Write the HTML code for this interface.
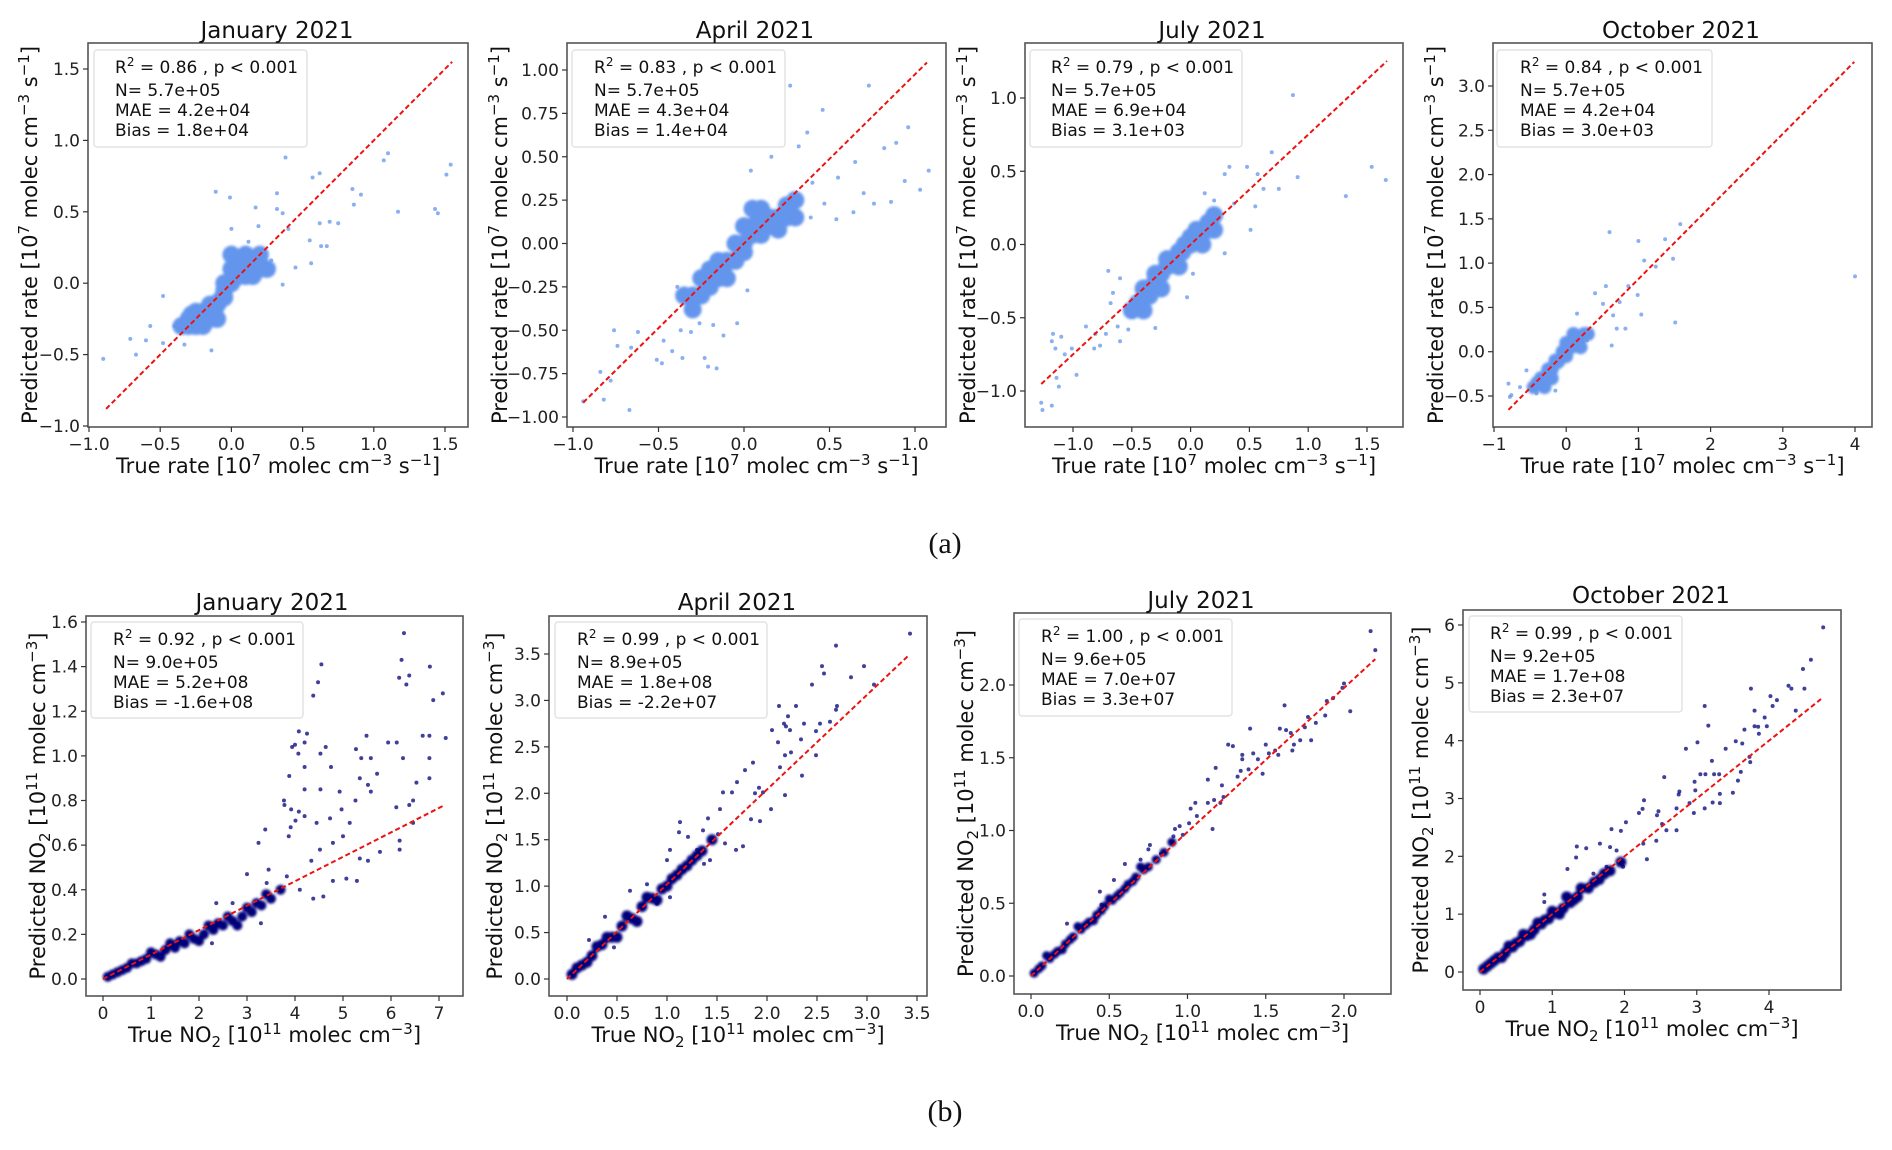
<!DOCTYPE html>
<html><head><meta charset="utf-8"><style>
html,body{margin:0;padding:0;background:#fff;}
svg{display:block;font-family:"DejaVu Sans","Liberation Sans",sans-serif;}
</style></head><body>
<svg id="fig" width="1892" height="1150" viewBox="0 0 1892 1150" xmlns="http://www.w3.org/2000/svg">
<defs><filter id="soft" x="-20%" y="-20%" width="140%" height="140%"><feGaussianBlur stdDeviation="1.4"/></filter></defs>
<rect x="0" y="0" width="1892" height="1150" fill="#fff"/>
<text x="945" y="553" font-family="Liberation Serif, serif" font-size="30" text-anchor="middle" fill="#111">(a)</text>
<text x="945" y="1121" font-family="Liberation Serif, serif" font-size="30" text-anchor="middle" fill="#111">(b)</text>
</svg>
<script>
// ---------- DATA ----------
const titles=["January 2021","April 2021","July 2021","October 2021","January 2021","April 2021","July 2021","October 2021"];
const statR2=["0.86","0.83","0.79","0.84","0.92","0.99","1.00","0.99"];
const statN=["5.7e+05","5.7e+05","5.7e+05","5.7e+05","9.0e+05","8.9e+05","9.6e+05","9.2e+05"];
const statMAE=["4.2e+04","4.3e+04","6.9e+04","4.2e+04","5.2e+08","1.8e+08","7.0e+07","1.7e+08"];
const statBias=["1.8e+04","1.4e+04","3.1e+03","3.0e+03","-1.6e+08","-2.2e+07","3.3e+07","2.3e+07"];
const xTicks=[[-1.0,-0.5,0.0,0.5,1.0,1.5],[-1.0,-0.5,0.0,0.5,1.0],[-1.0,-0.5,0.0,0.5,1.0,1.5],[-1,0,1,2,3,4],[0,1,2,3,4,5,6,7],[0,0.5,1,1.5,2,2.5,3,3.5],[0,0.5,1,1.5,2],[0,1,2,3,4]];
const yTicks=[[-1.0,-0.5,0.0,0.5,1.0,1.5],[-1,-0.75,-0.5,-0.25,0,0.25,0.5,0.75,1],[-1.0,-0.5,0.0,0.5,1.0],[-0.5,0,0.5,1,1.5,2,2.5,3],[0,0.2,0.4,0.6,0.8,1.0,1.2,1.4,1.6],[0,0.5,1,1.5,2,2.5,3,3.5],[0,0.5,1,1.5,2],[0,1,2,3,4,5,6]];
const xDec=[1,1,1,0,0,1,1,0];
const yDec=[1,2,1,1,1,1,1,0];
const fitSlope=[1.0,0.975,0.75,0.82,0.1095,1.02,0.99,1.0];
const fitXStart=[-0.88,-0.94,-1.27,-0.8,0,0,0,0];
const fitXEnd=[1.55,1.07,1.67,3.99,7.08,3.41,2.2,4.72];
const coreX=[
[-0.3,-0.25,-0.2,-0.15,-0.1,-0.05,0,0.05,0.1,0.15,0.2,-0.25,-0.2,-0.1,-0.05,0,0.05,0.1,0.15,-0.3,-0.15,0.2,0.25,-0.35,0,-0.05,0.1,-0.12,-0.08,0.02,-0.22,-0.28,0.08,0.18],
[-0.3,-0.25,-0.2,-0.2,-0.15,-0.1,-0.1,-0.05,0,0,0.05,0.05,0.1,0.1,0.15,0.15,0.2,0.2,0.25,0.25,0.3,-0.15,-0.25,0,-0.05,0.05,0.1,0.3,-0.3,-0.35,-0.12,-0.02,0.12,0.18,-0.22],
[-0.45,-0.4,-0.35,-0.3,-0.3,-0.25,-0.2,-0.2,-0.15,-0.1,-0.1,-0.05,0,0,0.05,0.05,0.1,0.15,0.15,0.2,-0.4,-0.5,-0.25,0.1,0.2,-0.17,-0.07,0.03,-0.27,-0.37],
[-0.4,-0.35,-0.3,-0.25,-0.2,-0.15,-0.1,-0.05,0,0,0.05,0.1,0.15,0.2,0.25,-0.3,-0.2,0,0.1,0.2,-0.45,0.3,-0.12,0.07,-0.22],
[0.1,0.3,0.5,0.7,0.9,1.1,1.3,1.5,1.7,1.9,2.1,2.3,2.5,2.7,2.9,3.1,3.3,3.5,0.6,1.0,1.4,1.8,2.2,2.6,3.0,3.4,3.7,1.2,2.0,2.8,0.2,0.4,0.8,1.6,2.4,3.2],
[0.05,0.15,0.25,0.35,0.45,0.55,0.65,0.75,0.85,0.95,1.05,1.15,1.25,0.3,0.5,0.6,0.7,0.8,0.9,0.4,0.2,1.35,1.45,0.1,1.0,1.1,1.2,1.3],
[0.02,0.07,0.12,0.17,0.22,0.27,0.32,0.37,0.42,0.47,0.52,0.57,0.62,0.67,0.72,0.1,0.2,0.3,0.4,0.5,0.6,0.7,0.8,0.85,0.9,0.05,0.15,0.25,0.35,0.45,0.55,0.65,0.75],
[0.05,0.15,0.25,0.35,0.45,0.55,0.65,0.75,0.85,0.95,1.05,1.15,1.25,1.35,1.5,1.65,0.4,0.6,0.8,1.0,1.2,1.4,0.3,0.7,1.1,1.8,1.95,0.1,0.2,0.5,0.9,1.3,1.58,1.72]];
const coreY=[
[-0.25,-0.3,-0.2,-0.25,-0.15,-0.1,0,0.05,0.05,0.1,0.1,-0.2,-0.3,-0.25,-0.05,0.1,0.15,0.15,0.05,-0.3,-0.15,0.2,0.1,-0.3,0.2,0,0.2,-0.2,-0.12,0.03,-0.25,-0.22,0.1,0.15],
[-0.3,-0.2,-0.25,-0.15,-0.1,-0.1,-0.2,0,0,-0.05,0.05,0.1,0.05,0.12,0.1,0.15,0.15,0.08,0.15,0.22,0.15,-0.2,-0.3,0.1,-0.1,0.2,0.2,0.25,-0.38,-0.3,-0.14,-0.02,0.12,0.12,-0.22],
[-0.4,-0.3,-0.35,-0.25,-0.2,-0.2,-0.15,-0.1,-0.1,-0.05,-0.15,0,0,0.05,0.05,0.1,0.1,0.1,0.15,0.1,-0.45,-0.45,-0.3,0,0.2,-0.13,-0.05,0.02,-0.22,-0.3],
[-0.35,-0.3,-0.3,-0.2,-0.2,-0.1,-0.1,0,0,-0.05,0.05,0.1,0.1,0.15,0.2,-0.4,-0.3,0.1,0.2,0.05,-0.4,0.2,-0.12,0.05,-0.22],
[0.01,0.03,0.05,0.07,0.09,0.11,0.13,0.14,0.16,0.18,0.2,0.22,0.24,0.26,0.28,0.3,0.33,0.36,0.07,0.12,0.16,0.2,0.24,0.28,0.32,0.38,0.4,0.1,0.17,0.24,0.02,0.04,0.08,0.17,0.25,0.34],
[0.05,0.15,0.25,0.37,0.45,0.57,0.65,0.78,0.87,0.97,1.08,1.18,1.28,0.35,0.45,0.68,0.62,0.88,0.85,0.45,0.18,1.38,1.5,0.12,1.0,1.12,1.22,1.33],
[0.02,0.07,0.12,0.17,0.22,0.27,0.32,0.37,0.42,0.48,0.52,0.57,0.63,0.68,0.73,0.14,0.18,0.34,0.38,0.53,0.6,0.75,0.8,0.85,0.92,0.05,0.15,0.25,0.35,0.45,0.55,0.65,0.75],
[0.05,0.15,0.25,0.33,0.43,0.53,0.63,0.73,0.83,0.92,1.02,1.1,1.2,1.3,1.45,1.6,0.45,0.65,0.85,1.05,1.3,1.45,0.25,0.65,1.0,1.75,1.9,0.1,0.2,0.5,0.9,1.25,1.55,1.7]];
const ptsX=[
[0.38,1.10,1.07,1.54,1.51,1.43,1.45,1.17,-0.11,-0.01,0.32,0.57,0.62,0.85,0.91,0.86,0.17,0.62,0.75,0.69,0.55,0.63,0.67,0.45,0.56,0.36,-0.90,-0.71,-0.67,-0.60,-0.57,-0.48,-0.14,-0.33,-0.48,-0.40,0.00,0.32,0.36,0.19,-0.34,0.05,0.26,0.28,0.12,0.40],
[0.27,0.73,0.46,0.96,1.08,1.03,0.94,0.86,0.76,0.89,0.82,0.65,0.55,0.54,0.37,0.32,0.16,0.04,0.40,0.47,0.39,0.70,0.64,-0.94,-0.67,-0.82,-0.84,-0.78,-0.74,-0.76,-0.62,-0.51,-0.48,-0.42,-0.36,-0.21,-0.16,-0.23,-0.12,-0.04,0.02,-0.39,-0.37,-0.31,-0.47,-0.18,-0.26,-0.66],
[0.87,1.54,1.66,1.32,0.91,0.69,0.57,0.75,0.62,0.48,0.33,0.29,0.55,0.51,0.29,0.02,0.37,0.12,0.20,-0.70,-0.60,-0.66,-0.68,-0.62,-0.60,-0.72,-0.77,-0.89,-0.81,-0.53,-0.50,-0.30,-0.03,-1.18,-1.17,-1.10,-1.15,-1.14,-1.12,-1.27,-1.26,-1.18,-0.97,-1.07,-1.01,-0.82],
[4.0,1.58,0.60,1.00,1.37,1.08,1.24,1.48,1.51,1.04,0.86,0.99,0.55,0.40,0.74,0.65,0.82,0.70,0.29,0.63,0.15,0.51,-0.80,-0.76,-0.78,-0.55,-0.41,-0.15,-0.64],
[6.27,6.22,6.81,6.38,6.17,6.32,7.08,6.88,7.14,6.66,6.80,5.94,6.12,6.25,6.80,6.80,6.53,6.46,6.38,6.11,5.49,5.27,5.38,5.58,5.71,5.35,5.52,5.58,4.93,4.97,5.26,4.55,4.48,4.38,4.08,4.25,4.20,4.07,3.94,4.00,4.64,4.53,3.88,4.20,4.20,4.53,4.75,3.77,3.78,3.92,4.08,4.20,3.91,4.01,3.38,3.87,3.24,4.45,4.73,5.14,5.77,5.35,5.52,5.29,5.07,4.59,4.38,3.29,4.79,4.52,4.79,5.0,4.34,6.46,6.18,6.18,3.45,3.83,3.41,4.10,3.0,2.36,2.70,2.27],
[3.43,2.69,2.97,2.55,2.57,2.84,2.45,3.07,2.70,2.69,2.12,2.29,2.21,2.37,2.53,2.63,2.17,2.19,2.49,2.05,2.23,2.34,2.11,2.18,2.49,2.24,2.35,2.04,2.18,2.13,1.86,1.78,1.70,1.92,1.96,1.88,1.65,1.56,1.53,1.84,1.93,1.76,1.69,1.58,1.41,1.13,1.12,1.21,1.51,1.36,1.30,1.03,1.00,1.37,1.17,1.43,0.38,0.22,0.80,0.90,0.63,1.03,0.47],
[2.17,2.20,2.04,2.00,1.99,1.93,1.89,1.88,1.82,1.77,1.75,1.79,1.72,1.62,1.67,1.68,1.66,1.63,1.59,1.56,1.50,1.58,1.52,1.48,1.45,1.40,1.42,1.35,1.35,1.34,1.39,1.32,1.26,1.29,1.18,1.13,1.22,1.23,1.21,1.17,1.13,1.16,1.05,1.02,1.06,1.01,0.95,0.97,0.91,0.92,0.76,0.75,0.60,0.53,0.44,0.70,0.83,0.45,0.23],
[4.75,4.58,4.47,4.49,4.27,4.31,4.11,4.02,4.05,4.37,3.75,3.80,3.94,3.97,3.85,3.80,3.86,3.66,3.63,3.54,3.40,3.11,3.16,3.01,2.85,3.21,3.73,3.74,3.61,3.57,3.50,3.32,3.22,3.32,3.12,3.24,3.31,3.05,2.97,2.98,2.76,2.75,2.72,2.90,3.11,2.96,2.55,2.27,2.25,2.20,2.47,2.45,2.52,2.72,2.58,2.44,2.31,2.02,1.95,1.82,1.47,1.66,1.33,1.34,1.21,0.89,0.89,1.89,1.75,1.98,2.26,1.57,1.34,1.80]];
const ptsY=[
[0.88,0.91,0.86,0.83,0.76,0.52,0.49,0.50,0.64,0.60,0.63,0.74,0.77,0.66,0.62,0.55,0.53,0.42,0.42,0.43,0.30,0.26,0.26,0.11,0.14,-0.01,-0.53,-0.39,-0.50,-0.40,-0.30,-0.09,-0.47,-0.43,-0.42,-0.30,0.38,0.52,0.49,0.40,-0.25,0.14,0.07,0.16,0.29,0.38],
[0.91,0.91,0.77,0.67,0.42,0.31,0.36,0.24,0.23,0.58,0.55,0.47,0.38,0.14,0.64,0.56,0.50,0.42,0.35,0.23,0.15,0.29,0.18,-0.91,-0.96,-0.90,-0.74,-0.79,-0.59,-0.50,-0.51,-0.67,-0.69,-0.62,-0.66,-0.71,-0.72,-0.66,-0.53,-0.46,-0.27,-0.25,-0.50,-0.51,-0.56,-0.47,-0.46,-0.60],
[1.02,0.53,0.44,0.33,0.46,0.63,0.48,0.38,0.38,0.53,0.53,0.48,0.26,0.10,-0.06,-0.20,0.28,0.35,0.30,-0.18,-0.23,-0.33,-0.40,-0.56,-0.66,-0.61,-0.69,-0.56,-0.61,-0.58,-0.49,-0.57,-0.36,-0.66,-0.61,-0.63,-0.71,-0.91,-0.97,-1.08,-1.13,-1.10,-0.89,-0.75,-0.71,-0.71],
[0.85,1.44,1.35,1.25,1.27,1.03,0.96,1.05,0.33,0.42,0.74,0.64,0.74,0.66,0.56,0.41,0.26,0.26,0.13,0.07,0.43,0.54,-0.36,-0.49,-0.51,-0.21,-0.47,-0.44,-0.40],
[1.55,1.43,1.40,1.36,1.35,1.32,1.28,1.25,1.08,1.09,1.09,1.06,1.06,0.99,0.99,0.90,0.88,0.80,0.78,0.77,1.09,1.03,0.99,0.99,0.92,0.90,0.87,0.84,0.84,0.76,0.80,1.41,1.33,1.27,1.11,1.10,1.06,1.01,1.04,1.05,1.04,1.01,0.91,0.95,0.85,0.85,0.95,0.80,0.78,0.76,0.75,0.73,0.68,0.71,0.67,0.64,0.61,0.70,0.72,0.70,0.57,0.54,0.53,0.44,0.45,0.37,0.36,0.25,0.44,0.58,0.61,0.64,0.53,0.70,0.58,0.62,0.49,0.46,0.43,0.40,0.47,0.34,0.34,0.16],
[3.72,3.59,3.37,3.37,3.29,3.25,3.17,3.17,2.94,2.90,2.94,2.94,2.83,2.75,2.75,2.77,2.75,2.72,2.67,2.68,2.68,2.58,2.55,2.41,2.41,2.44,2.19,1.83,1.98,2.28,2.33,2.25,2.12,2.06,2.01,2.00,2.01,2.01,1.83,1.72,1.70,1.43,1.39,1.46,1.73,1.69,1.58,1.53,1.56,1.60,1.39,1.39,1.28,1.24,1.17,1.28,0.67,0.42,1.02,0.81,0.95,0.88,0.34],
[2.37,2.24,1.82,2.01,1.98,1.91,1.89,1.79,1.74,1.78,1.71,1.62,1.62,1.86,1.55,1.59,1.67,1.69,1.70,1.55,1.59,1.52,1.53,1.39,1.49,1.70,1.53,1.49,1.52,1.41,1.42,1.37,1.59,1.58,1.43,1.35,1.31,1.23,1.19,1.21,1.19,1.01,1.19,1.15,1.10,1.05,1.03,0.97,0.96,1.01,0.90,0.87,0.77,0.66,0.58,0.80,0.84,0.49,0.36],
[5.96,5.40,5.24,4.90,4.95,4.90,4.70,4.77,4.60,4.52,4.90,4.52,4.40,4.25,4.24,4.25,4.12,4.19,3.95,3.99,3.86,4.60,4.26,3.97,3.86,3.65,3.72,3.63,3.46,3.31,3.10,3.08,2.93,2.92,3.42,3.42,3.42,3.42,3.29,3.14,3.12,3.07,2.83,2.92,2.83,2.75,3.37,2.97,2.82,2.75,2.78,2.71,2.56,2.45,2.45,2.27,1.95,2.59,2.44,2.47,2.14,2.22,1.98,2.17,1.78,1.34,1.21,2.10,1.82,1.82,2.22,1.70,1.33,2.16]];

// ---------- LAYOUT (pixels, not data) ----------
const boxes=[[88,43,468,427],[567,43,946,427],[1025,43,1403,427],[1493,43,1872,427],[86,616,463,996],[549,616,927,996],[1014,613,1391,994],[1463,610,1841,990]];
const xCal=[[-1,89,1.5,445],[-1,573,1,915],[-1,1073,1.5,1367],[-1,1494,4,1855],[0,103,7,439],[0,567,3.5,917],[0,1031,2,1344],[0,1480,4,1769]];
const yCal=[[-1,426,1.5,69],[-1,417,1,70],[-1,391,1,98],[-0.5,396,3,86],[0,979,1.6,622],[0,979,3.5,654],[0,976,2,685],[0,972,6,625]];
const titlePos=[[277,38],[755,38],[1212,38],[1681,38],[272,610],[737,610],[1201,608],[1651,603]];
const legBox=[[94,50,213,97],[572,50,213,97],[1030,50,212,97],[1497,50,215,97],[91,622,212,96],[555,622,212,96],[1019,619,213,97],[1469,616,213,96]];
const legTextX=[115,594,1051,1520,113,577,1041,1490];
const yLabX=[37,507,975,1443,45,502,973,1428];

const NS="http://www.w3.org/2000/svg";
const svg=document.getElementById('fig');
function mk(tag,attrs,parent){const e=document.createElementNS(NS,tag);for(const k in attrs)e.setAttribute(k,attrs[k]);(parent||svg).appendChild(e);return e;}
function fmt(v,d){const s=v.toFixed(d);return s.replace('-','\u2212');}

for(let p=0;p<8;p++){
  const top=p<4;
  const g=mk('g',{});
  
  
  const [l,t,r,b]=boxes[p];
  const xc=xCal[p], yc=yCal[p];
  const sx=v=>xc[1]+(v-xc[0])*(xc[3]-xc[1])/(xc[2]-xc[0]);
  const sy=v=>yc[1]+(v-yc[0])*(yc[3]-yc[1])/(yc[2]-yc[0]);
  const col=top?'#6495ED':'#00007a';
  const cid='clip'+p;
  const cp=mk('clipPath',{id:cid},g);mk('rect',{x:l,y:t,width:r-l,height:b-t},cp);
  const pg=mk('g',{'clip-path':'url(#'+cid+')'},g);
  const coreG=mk('g',{filter:'url(#soft)'},pg);
  const coreR=top?(p==3?7:9):(p==4?5:(p==6?4.5:5.5));
  for(let i=0;i<coreX[p].length;i++){
    const c=mk('circle',{cx:sx(coreX[p][i]),cy:sy(coreY[p][i]),r:coreR,fill:col},coreG);
    
    
  }
  for(let i=0;i<ptsX[p].length;i++){
    const c=mk('circle',{cx:sx(ptsX[p][i]),cy:sy(ptsY[p][i]),r:2,fill:col,'fill-opacity':0.75},pg);
    
    
  }
  const ln=mk('line',{x1:sx(fitXStart[p]),y1:sy(fitXStart[p]*fitSlope[p]),x2:sx(fitXEnd[p]),y2:sy(fitXEnd[p]*fitSlope[p]),stroke:'#ee1111','stroke-width':2,'stroke-dasharray':'5,3'},pg);
  
  
  const fr=mk('rect',{x:l,y:t,width:r-l,height:b-t,fill:'none',stroke:'#555','stroke-width':1.6},g);
  
  
  xTicks[p].forEach(v=>{
    const x=sx(v);
    mk('line',{x1:x,y1:b,x2:x,y2:b+5,stroke:'#333','stroke-width':1.2},g);
    const tx=mk('text',{x:x,y:b+23,'font-size':17,'text-anchor':'middle',fill:'#222'},g);
    tx.textContent=fmt(v,xDec[p]);
    
    
  });
  yTicks[p].forEach(v=>{
    const y=sy(v);
    mk('line',{x1:l-5,y1:y,x2:l,y2:y,stroke:'#333','stroke-width':1.2},g);
    const tx=mk('text',{x:l-8,y:y+6,'font-size':17,'text-anchor':'end',fill:'#222'},g);
    tx.textContent=fmt(v,yDec[p]);
    
    
  });
  const tt=mk('text',{x:titlePos[p][0],y:titlePos[p][1],'font-size':23,'text-anchor':'middle',fill:'#111'},g);
  tt.textContent=titles[p];
  
  
  const cx=(l+r)/2;
  const xl=mk('text',{x:cx,y:b+46,'font-size':21,'text-anchor':'middle',fill:'#111'},g);
  
  
  if(top){xl.innerHTML='True rate [10<tspan dy="-8" font-size="15">7</tspan><tspan dy="8"> molec cm</tspan><tspan dy="-8" font-size="15">\u22123</tspan><tspan dy="8"> s</tspan><tspan dy="-8" font-size="15">\u22121</tspan><tspan dy="8">]</tspan>';}
  else{xl.innerHTML='True NO<tspan dy="5" font-size="15">2</tspan><tspan dy="-5"> [10</tspan><tspan dy="-8" font-size="15">11</tspan><tspan dy="8"> molec cm</tspan><tspan dy="-8" font-size="15">\u22123</tspan><tspan dy="8">]</tspan>';}
  const cy=(t+b)/2;
  const yl=mk('text',{x:0,y:0,'font-size':21,'text-anchor':'middle',fill:'#111',transform:'translate('+yLabX[p]+','+cy+') rotate(-90)'},g);
  
  
  if(top){yl.innerHTML='Predicted rate [10<tspan dy="-8" font-size="15">7</tspan><tspan dy="8"> molec cm</tspan><tspan dy="-8" font-size="15">\u22123</tspan><tspan dy="8"> s</tspan><tspan dy="-8" font-size="15">\u22121</tspan><tspan dy="8">]</tspan>';}
  else{yl.innerHTML='Predicted NO<tspan dy="5" font-size="15">2</tspan><tspan dy="-5"> [10</tspan><tspan dy="-8" font-size="15">11</tspan><tspan dy="8"> molec cm</tspan><tspan dy="-8" font-size="15">\u22123</tspan><tspan dy="8">]</tspan>';}
  const lb=legBox[p];
  const lr=mk('rect',{x:lb[0],y:lb[1],width:lb[2],height:lb[3],rx:3,fill:'#fff','fill-opacity':0.85,stroke:'#ddd','stroke-width':1.2},g);
  
  
  const lx=legTextX[p], ly=lb[1];
  const lines=['R<tspan dy="-7" font-size="12">2</tspan><tspan dy="7"> = '+statR2[p]+' , p &lt; 0.001</tspan>','N= '+statN[p],'MAE = '+statMAE[p],'Bias = '+statBias[p]];
  const names=['stat-r2','stat-n','stat-mae','stat-bias'];
  const offs=[23,46,66,86];
  for(let k=0;k<4;k++){
    const st=mk('text',{x:lx,y:ly+offs[k],'font-size':17,fill:'#111'},g);
    st.innerHTML=lines[k];
    
    
  }
}
</script>
</body></html>
